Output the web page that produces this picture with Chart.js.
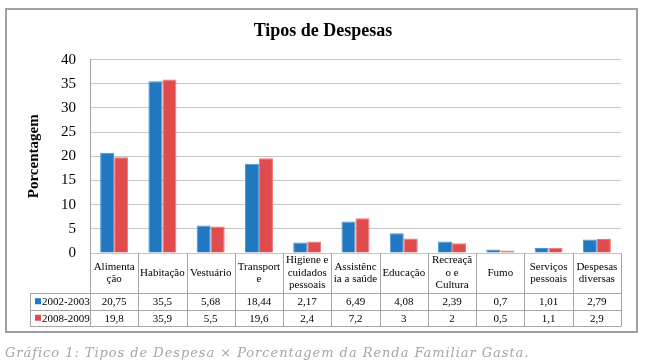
<!DOCTYPE html>
<html lang="pt">
<head>
    <meta charset="UTF-8">
    <title>Tipos de Despesas</title>
    <script src="https://cdn.jsdelivr.net/npm/chart.js"></script>
    <style>
        html, body { margin: 0; padding: 0; background: #fff; }
        .wrap { position: relative; width: 647px; height: 364px; }
        canvas { position: absolute; left: 0; top: 0; }
        .caption {
            position: absolute;
            left: 5px;
            top: 345px;
            margin: 0;
            font-family: 'DejaVu Serif', serif;
            font-style: italic;
            font-size: 13px;
            letter-spacing: 0.95px;
            color: #a6a6a6;
            white-space: nowrap;
        }
    </style>
</head>
<body>
<div class="wrap">
    <canvas id="chart" width="647" height="364"></canvas>
    <p class="caption">Gráfico 1: Tipos de Despesa × Porcentagem da Renda Familiar Gasta.</p>
</div>
<script>
    // data
    const categories = [
        ['Alimenta', 'ção'], ['Habitação'], ['Vestuário'], ['Transport', 'e'],
        ['Higiene e', 'cuidados', 'pessoais'], ['Assistênc', 'ia a saúde'], ['Educação'],
        ['Recreaçã', 'o e', 'Cultura'], ['Fumo'], ['Serviços', 'pessoais'], ['Despesas', 'diversas']
    ];
    const seriesNames = ['2002-2003', '2008-2009'];
    const values2002 = [20.75, 35.5, 5.68, 18.44, 2.17, 6.49, 4.08, 2.39, 0.7, 1.01, 2.79];
    const values2008 = [19.8, 35.9, 5.5, 19.6, 2.4, 7.2, 3, 2, 0.5, 1.1, 2.9];
    const yTicks = [0, 5, 10, 15, 20, 25, 30, 35, 40];

    const blue = '#2177c0';
    const red = '#e04b4d';
    const serif = "'Liberation Serif', 'Times New Roman', serif";

    const fmt = v => String(v).replace('.', ',');

    // frame + data table under the bars
    const tablePlugin = {
        id: 'dataTable',
        beforeDraw(chart) {
            const c = chart.ctx;
            c.save();
            c.strokeStyle = '#a0a0a0';
            c.lineWidth = 2;
            c.strokeRect(6, 9, 631, 323);
            c.restore();
        },
        afterDraw(chart) {
            const c = chart.ctx;
            const x = chart.scales.x;
            const area = chart.chartArea;
            const top = area.bottom;
            const row1 = top + 40;
            const row2 = row1 + 16.5;
            const row3 = row2 + 16.5;
            const legLeft = 30;

            c.save();
            c.strokeStyle = '#a6a6a6';
            c.lineWidth = 1;
            c.beginPath();
            // vertical lines
            for (let i = 0; i <= categories.length; i++) {
                const px = Math.round(area.left + (area.right - area.left) * i / categories.length) + 0.5;
                c.moveTo(px, top);
                c.lineTo(px, row3);
            }
            c.moveTo(legLeft + 0.5, row1);
            c.lineTo(legLeft + 0.5, row3);
            // horizontal lines
            [row1, row2, row3].forEach(y => {
                c.moveTo(legLeft, Math.round(y) + 0.5);
                c.lineTo(area.right, Math.round(y) + 0.5);
            });
            c.stroke();

            c.fillStyle = '#000';
            c.textAlign = 'center';
            c.textBaseline = 'middle';
            c.font = '11px ' + serif;
            categories.forEach((lines, i) => {
                const cx = x.getPixelForValue(i);
                const lh = 12.5;
                const startY = top + 20 - (lines.length - 1) * lh / 2;
                lines.forEach((t, j) => c.fillText(t, cx, startY + j * lh));
                c.fillText(fmt(values2002[i]), cx, (row1 + row2) / 2 + 1);
                c.fillText(fmt(values2008[i]), cx, (row2 + row3) / 2 + 1);
            });

            // legend keys
            c.textAlign = 'left';
            c.font = '11px ' + serif;
            [[blue, row1, row2], [red, row2, row3]].forEach((r, k) => {
                const cy = (r[1] + r[2]) / 2;
                c.fillStyle = r[0];
                c.fillRect(legLeft + 5, cy - 3, 6, 6);
                c.fillStyle = '#000';
                c.fillText(seriesNames[k], legLeft + 12, cy + 1);
            });
            c.restore();
        }
    };

    new Chart(document.getElementById('chart'), {
        type: 'bar',
        data: {
            labels: categories.map(l => l.join(' ')),
            datasets: [
                { label: seriesNames[0], data: values2002, backgroundColor: blue, borderColor: '#4a95d6', borderWidth: 1 },
                { label: seriesNames[1], data: values2008, backgroundColor: red, borderColor: '#ef7072', borderWidth: 1 }
            ]
        },
        plugins: [tablePlugin],
        options: {
            responsive: false,
            animation: false,
            devicePixelRatio: 1,
            layout: { padding: { left: 25, right: 26, top: 0, bottom: 111 } },
            datasets: { bar: { categoryPercentage: 0.58, barPercentage: 1 } },
            plugins: {
                legend: { display: false },
                tooltip: { enabled: false },
                title: {
                    display: true,
                    text: 'Tipos de Despesas',
                    color: '#000',
                    font: { family: serif, size: 18, weight: 'bold' },
                    padding: { top: 21, bottom: 17 }
                }
            },
            scales: {
                x: { display: false },
                y: {
                    min: 0,
                    max: 40,
                    afterFit: s => { s.width = 65; },
                    afterBuildTicks: s => { s.ticks = yTicks.map(v => ({ value: v })); },
                    border: { display: true, color: '#a6a6a6' },
                    grid: { color: '#c4c4c4', drawTicks: false },
                    ticks: { color: '#000', padding: 14, font: { family: serif, size: 15 } },
                    title: {
                        display: true,
                        text: 'Porcentagem',
                        color: '#000',
                        font: { family: serif, size: 15, weight: 'bold' },
                        padding: { top: 0, bottom: 4 }
                    }
                }
            }
        }
    });
</script>
</body>
</html>
